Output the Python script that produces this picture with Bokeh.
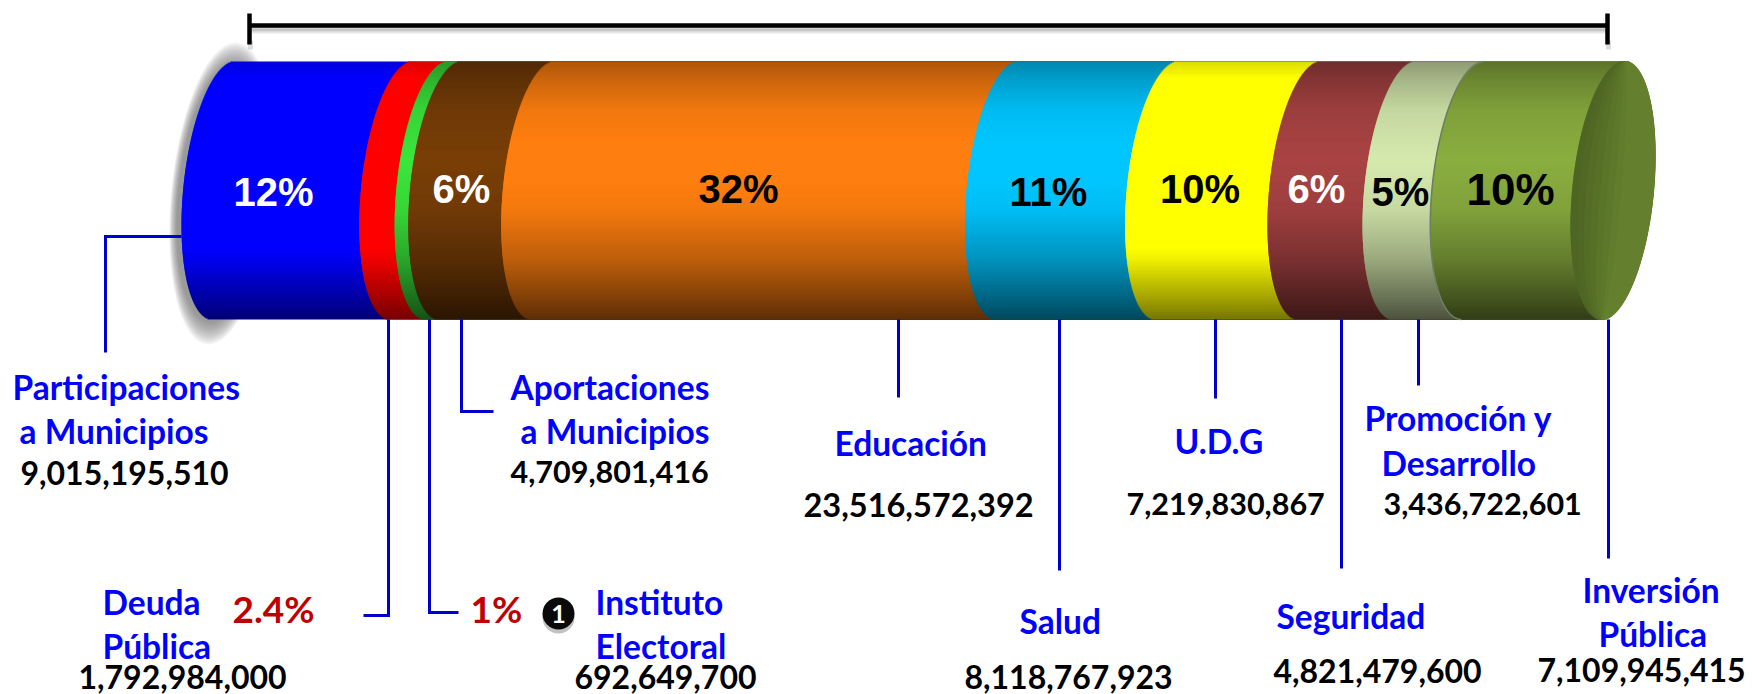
import numpy as np
from bokeh.plotting import figure
from bokeh.models import Range1d, ColumnDataSource
from bokeh.core.properties import value
from bokeh.embed import file_html
from bokeh.resources import INLINE

# ---- data ----
categories = ["Participaciones a Municipios", "Deuda Pública", "Instituto Electoral",
              "Aportaciones a Municipios", "Educación", "Salud", "U.D.G", "Seguridad",
              "Promoción y Desarrollo", "Inversión Pública"]
amounts = [9015195510, 1792984000, 692649700, 4709801416, 23516572392,
           8118767923, 7219830867, 4821479600, 3436722601, 7109945415]
percent_labels = ["12%", "2.4%", "1%", "6%", "32%", "11%", "10%", "6%", "5%", "10%"]
segment_colors = ["#0000FF", "#FF0000", "#3CE63C", "#7A3F08", "#FF7F10",
                  "#00C6FF", "#FFFF00", "#AA4444", "#D6EAAE", "#8BAE40"]
segment_gain = [1.3, 1.3, 1.0, 1.0, 1.03, 1.03, 1.3, 1.0, 1.0, 1.0]

# ---- layout (pixel coordinates of the page) ----
FONT = value("Lato")
W, H = 1752, 694
X0_PX, X1_PX = 181.0, 1570.0      # where 0 and the total land on the page
TOP, BOT = 61.0, 319.0
CY, HY = (TOP + BOT) / 2, (BOT - TOP) / 2
A, B = 41.0, 11.5                 # sheared ellipse of the cylinder ends
R = float(np.hypot(A, B))

millions = np.array(amounts) / 1e6
total = millions.sum()
k = (X1_PX - X0_PX) / total
starts = np.concatenate([[0], np.cumsum(millions)[:-1]])
x_start = -X0_PX / k

p = figure(width=W, height=H, output_backend="svg", toolbar_location=None,
           x_axis_type=None, y_axis_type=None,
           x_range=Range1d(x_start, x_start + W / k), y_range=Range1d(H, 0),
           min_border=0, outline_line_color=None, background_fill_color="white",
           border_fill_color="white")
p.grid.visible = False
p.extra_x_ranges = {"px": Range1d(0, W)}
p.styles = {"margin-bottom": "-8px"}


def shade_factor(y):
    return np.interp(y, [61, 80, 110, 160, 210, 260, 300, 319],
                     [0.66, 0.78, 0.92, 1.0, 0.93, 0.72, 0.48, 0.36])


def shaded(col, f, gain=1.0):
    rgb = np.array([int(col[i:i + 2], 16) for i in (1, 3, 5)], float)
    rgb = np.clip(rgb * min(f * gain, 1.0), 0, 255).astype(int)
    return "#%02x%02x%02x" % tuple(rgb)


# shadow behind the left end
ts = np.linspace(0, 2 * np.pi, 90)
for i in range(12):
    g = i / 11
    grow = 1.0 + 0.17 * (1 - g)
    ax, bx, hy = (A + 3 + 7 * (1 - g)), B * grow, HY * grow
    xs = (R - 2 + ax * np.cos(ts) + bx * np.sin(ts)) / k
    ys = CY + 3 - hy * np.sin(ts)
    p.patch(xs, ys, fill_color="#606060", fill_alpha=0.075, line_color=None)

# cylinder body, one row of pixels at a time
rows = np.arange(TOP + 1.0, BOT, 1.0)
sint = (CY - rows) / HY
cost = np.sqrt(np.clip(1 - sint ** 2, 0, 1))
left_px = R - A * cost + B * sint
end_data = total + (R + B * sint) / k
for s, col, gain in zip(starts, segment_colors, segment_gain):
    p.hbar(y=rows, left=s + left_px / k, right=end_data, height=2.0,
           fill_color=[shaded(col, shade_factor(y), gain) for y in rows],
           fill_alpha=1.0, line_color=None)
    if col == "#8BAE40":
        tt = np.linspace(np.pi / 2, 3 * np.pi / 2, 60)
        p.line(s + (R + A * np.cos(tt) + B * np.sin(tt)) / k, CY - HY * np.sin(tt),
               line_color="#6f7f60", line_width=1.6)

# end cap: rows again, lighter layers from left to right
cap_right = total + (R + A * cost + B * sint) / k
for i in range(8):
    g = i / 7
    ai = A * (1 - 1.2 * g)
    c = "#%02x%02x%02x" % (int(78 + 22 * g), int(102 + 26 * g), int(36 + 10 * g))
    lefts = total + (R - ai * cost + B * sint) / k
    rights = np.maximum(lefts, cap_right - (7 - i) * 0.3 / k)
    p.hbar(y=rows, left=lefts, right=rights, height=2.0,
           fill_color=c, fill_alpha=1.0, line_color=None)

# bracket
for dy, a, w in [(3, .22, 5), (5, .15, 4), (7, .07, 3)]:
    p.line([249, 1607], [25 + dy, 25 + dy], x_range_name="px", line_color="#555555",
           line_alpha=a, line_width=w)
for x in (249, 1607):
    p.line([x + 1, x + 1], [40, 49], x_range_name="px", line_color="#555555", line_alpha=.2, line_width=5)
p.line([249, 1607], [25, 25], x_range_name="px", line_color="#000000", line_width=4.5)
p.multi_line([[249, 249], [1607, 1607]], [[13, 44], [13, 44]], x_range_name="px",
             line_color="#000000", line_width=4.5)

# leader lines
leaders_x = [[181, 105, 105], [388, 388, 363], [429, 429, 458], [461, 461, 493], [898, 898],
             [1059, 1059], [1215, 1215], [1341, 1341], [1418, 1418], [1608, 1608]]
leaders_y = [[236, 236, 352], [319, 615, 615], [319, 612, 612], [319, 411, 411], [319, 397],
             [319, 570], [319, 398], [319, 568], [319, 385], [319, 558]]
p.multi_line(leaders_x, leaders_y, x_range_name="px", line_color="#0000CC", line_width=3,
             line_join="miter")


def texts(items, color, px, align="left", font=FONT, lift=0.33):
    src = ColumnDataSource(dict(x=[i[0] for i in items], y=[i[1] - lift * px for i in items],
                                t=[i[2] for i in items]))
    p.text("x", "y", "t", source=src, x_range_name="px", text_color=color,
           text_font=font, text_font_size=f"{px}px", text_font_style="bold",
           text_align=align, text_baseline="alphabetic")


# percent labels inside the cylinder
ARIAL = value("Liberation Sans")
texts([(273, 207, percent_labels[0]), (461, 204, percent_labels[3]),
       (1316, 204, percent_labels[7])], "#FFFFFF", 40, "center", ARIAL, 0.39)
texts([(738, 204, percent_labels[4]), (1048, 207, percent_labels[5]),
       (1199.5, 204, percent_labels[6]), (1400, 207, percent_labels[8])],
      "#000000", 40, "center", ARIAL, 0.39)
texts([(1510, 206, percent_labels[9])], "#000000", 44, "center", ARIAL, 0.39)

# red outside labels
texts([(232, 620, percent_labels[1]), (470, 620, percent_labels[2])], "#C00000", 37)

# bullet
p.circle([558], [617], radius=16, radius_units="screen", x_range_name="px",
         fill_color="#777777", fill_alpha=.45, line_color=None)
p.circle([558], [613], radius=16, radius_units="screen", x_range_name="px",
         fill_color="#0a0a0a", line_color=None)
texts([(558, 622, "1")], "#FFFFFF", 25, "center")

# category names
texts([(12, 398, "Participaciones"), (19, 442, "a Municipios"),
       (510, 398, "Aportaciones"), (520, 442, "a Municipios"),
       (102, 613, "Deuda"), (102, 657, "Pública"),
       (595, 613, "Instituto"), (595, 657, "Electoral"),
       (834, 454, "Educación"), (1174, 452, "U.D.G"),
       (1364, 429, "Promoción y"), (1381, 474, "Desarrollo"),
       (1019, 632, "Salud"), (1276, 627, "Seguridad"),
       (1582, 601, "Inversión"), (1598, 645, "Pública")], "#0000FF", 33.5)

# amounts
amount_pos = [(20, 483), (78, 687), (574, 687), (510, 482), (803, 515),
              (964, 687), (1126, 514), (1273, 681), (1383, 514), (1537, 680)]
amount_px = [32, 32, 32, 30.5, 32.5, 32, 30.5, 32, 30.5, 32]
for (x, y), v, px in zip(amount_pos, amounts, amount_px):
    texts([(x, y, f"{v:,}")], "#000000", px)

open("out.html", "w").write(file_html(p, INLINE))
